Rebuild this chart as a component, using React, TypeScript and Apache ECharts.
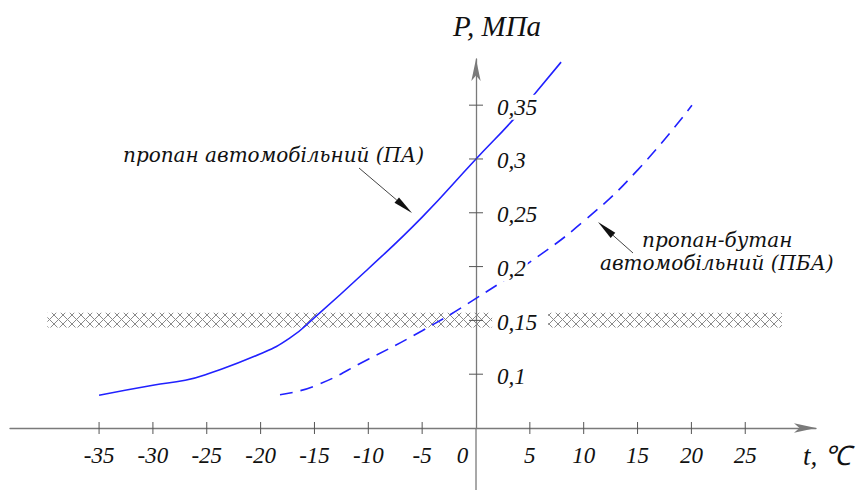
import React, { useEffect, useRef } from 'react';
import * as echarts from 'echarts';

// ---- data ----
const xTickValues = [-35, -30, -25, -20, -15, -10, -5, 0, 5, 10, 15, 20, 25];
const yTickValues = [0.1, 0.15, 0.2, 0.25, 0.3, 0.35];

// пропан автомобільний (ПА) – solid
const paT = [-35, -30, -27, -25, -20, -17.3, -15, -10, -5, 0, 3.5, 5.5, 7.9];
const paP = [0.0805, 0.0898, 0.0944, 0.1, 0.119, 0.1335, 0.1525, 0.198, 0.246, 0.3, 0.337, 0.361, 0.39];

// пропан-бутан автомобільний (ПБА) – dashed
const pbaT = [-18.2, -15, -10, -5, 0, 5, 10, 15, 20.05];
const pbaP = [0.0809, 0.089, 0.1139, 0.1404, 0.1704, 0.2041, 0.2422, 0.2896, 0.35];

// hatched band around 0,15 MPa
const bandP = [0.1435, 0.157];
const bandLeftT = [-39.8, 1.5];
const bandRightT = [6.7, 28.4];

const xMin = -43.27;
const xMax = 31.57;
const yMin = 0.05;
const yMax = 0.3929;

const FONT = 'Liberation Serif';
const ANNOT_FONT = 'DejaVu Serif';
const fmt = (v: number) => String(v).replace('.', ',');
const fontStr = (size: number, family: string) => `italic ${size}px "${family}", serif`;

function arrow(x1: number, y1: number, x2: number, y2: number) {
  const dx = x2 - x1, dy = y2 - y1;
  const L = Math.hypot(dx, dy);
  const ux = dx / L, uy = dy / L;
  const hl = 20, hw = 3.5;
  const bx = x2 - ux * hl, by = y2 - uy * hl;
  return [
    { type: 'line', shape: { x1, y1, x2: bx, y2: by }, style: { stroke: '#444', lineWidth: 1 } },
    {
      type: 'polygon',
      shape: { points: [[x2, y2], [bx - uy * hw, by + ux * hw], [bx + uy * hw, by - ux * hw]] },
      style: { fill: '#111' },
    },
  ];
}

export default function App() {
  const ref = useRef<HTMLDivElement>(null);
  useEffect(() => {
    const el = ref.current!;
    const chart = echarts.init(el, null, { renderer: 'svg' });

    const c = document.createElement('canvas');
    c.width = 9;
    c.height = 9;
    const g = c.getContext('2d')!;
    g.strokeStyle = '#8a8a8a';
    g.lineWidth = 1;
    g.beginPath();
    g.moveTo(0, 0);
    g.lineTo(9, 9);
    g.moveTo(9, 0);
    g.lineTo(0, 9);
    g.stroke();
    const pattern: any = { image: c, repeat: 'repeat', imageWidth: 9, imageHeight: 9 };

    const tickData: number[][] = [
      ...xTickValues.filter((v) => v !== 0).map((v) => [v, 0]),
      ...yTickValues.map((v) => [v, 1]),
    ];

    const blue = '#2121ff';
    const option: any = {
      animation: false,
      grid: { left: 10, right: 44, top: 59, bottom: 62, outerBoundsMode: 'none', containLabel: false },
      xAxis: {
        type: 'value',
        min: xMin,
        max: xMax,
        splitLine: { show: false },
        axisTick: { show: false },
        axisLine: {
          show: true,
          onZero: false,
          symbol: ['none', 'arrow'],
          symbolSize: [7, 22],
          lineStyle: { color: '#7a7a7a', width: 1.3 },
        },
        axisLabel: {
          customValues: xTickValues,
          margin: 16,
          color: '#111',
          fontFamily: FONT,
          fontStyle: 'italic',
          fontSize: 23,
          formatter: (v: number) => (v === 0 ? '{z|0}' : String(v)),
          rich: {
            z: { padding: [0, 27, 0, 0], fontFamily: FONT, fontStyle: 'italic', fontSize: 23, color: '#111' },
          },
        },
      },
      yAxis: {
        type: 'value',
        min: yMin,
        max: yMax,
        splitLine: { show: false },
        axisTick: { show: false },
        axisLabel: { show: false },
        axisLine: {
          show: true,
          onZero: true,
          symbol: ['none', 'arrow'],
          symbolSize: [7, 22],
          lineStyle: { color: '#7a7a7a', width: 1.3 },
        },
      },
      series: [
        {
          type: 'line',
          name: 'ПА',
          data: paT.map((t, i) => [t, paP[i]]),
          showSymbol: false,
          symbol: 'none',
          smooth: 0.5,
          lineStyle: { color: blue, width: 1.6 },
          z: 3,
          markArea: {
            silent: true,
            itemStyle: { color: pattern, borderWidth: 0 },
            data: [
              [{ coord: [bandLeftT[0], bandP[0]] }, { coord: [bandLeftT[1], bandP[1]] }],
              [{ coord: [bandRightT[0], bandP[0]] }, { coord: [bandRightT[1], bandP[1]] }],
            ],
          },
        },
        {
          type: 'line',
          name: 'ПБА',
          data: pbaT.map((t, i) => [t, pbaP[i]]),
          showSymbol: false,
          symbol: 'none',
          smooth: 0.5,
          lineStyle: { color: blue, width: 1.6, type: [13, 8] },
          z: 3,
        },
        {
          type: 'custom',
          name: 'ticks',
          clip: false,
          silent: true,
          z: 4,
          data: tickData,
          renderItem: (params: any, api: any) => {
            const v = api.value(0);
            const k = api.value(1);
            if (k === 0) {
              const p = api.coord([v, yMin]);
              return { type: 'line', shape: { x1: p[0], y1: p[1] - 6, x2: p[0], y2: p[1] + 6 }, style: { stroke: '#555', lineWidth: 1 } };
            }
            const p = api.coord([0, v]);
            return { type: 'line', shape: { x1: p[0] - 7, y1: p[1], x2: p[0] + 7, y2: p[1] }, style: { stroke: '#555', lineWidth: 1 } };
          },
        },
        {
          type: 'custom',
          name: 'yLabels',
          clip: false,
          silent: true,
          z: 6,
          data: yTickValues.map((v) => [0, v]),
          renderItem: (params: any, api: any) => {
            const p = api.coord([api.value(0), api.value(1)]);
            return {
              type: 'text',
              x: p[0] + 19,
              y: p[1] + 2,
              style: {
                text: fmt(api.value(1)),
                font: fontStr(23, FONT),
                fontFamily: FONT,
                fontStyle: 'italic',
                fontSize: 23,
                fill: '#111',
                align: 'left',
                verticalAlign: 'middle',
                backgroundColor: '#fff',
                padding: [1, 2, 1, 2],
              },
            };
          },
        },
      ],
    };
    chart.setOption(option);

    const origin = chart.convertToPixel({ gridIndex: 0 }, [0, yMin]) as number[];
    const textStyle = (text: string, size: number, family = FONT) => ({
      text,
      font: fontStr(size, family),
      fontFamily: family,
      fontStyle: 'italic',
      fontSize: size,
      fill: '#111',
      verticalAlign: 'middle',
      align: 'left',
    });
    chart.setOption({
      graphic: [
        {
          type: 'line',
          shape: { x1: origin[0], y1: origin[1], x2: origin[0], y2: 490 },
          style: { stroke: '#7a7a7a', lineWidth: 1.3 },
        },
        { type: 'text', x: 453, y: 26, style: textStyle('P, МПа', 29) },
        { type: 'text', x: 803, y: 456, style: textStyle('t, ℃', 27) },
        { type: 'text', x: 123, y: 155, style: textStyle('пропан автомобільний (ПА)', 20, ANNOT_FONT) },
        { type: 'text', x: 642, y: 240, style: textStyle('пропан-бутан', 20, ANNOT_FONT) },
        { type: 'text', x: 600, y: 263, style: textStyle('автомобільний (ПБА)', 20, ANNOT_FONT) },
        ...arrow(359, 168, 412, 213),
        ...arrow(633, 253, 598, 222),
      ],
    });

    return () => chart.dispose();
  }, []);
  return <div ref={ref} style={{ position: 'absolute', left: 0, top: 0, width: 860, height: 490 }} />;
}
